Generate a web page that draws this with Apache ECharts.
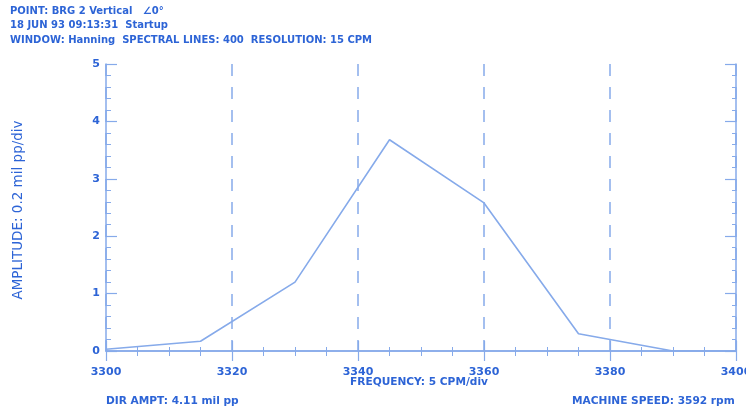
<!DOCTYPE html>
<html>
<head>
<meta charset="utf-8">
<script src="https://cdn.jsdelivr.net/npm/echarts@6/dist/echarts.min.js"></script>
<style>html,body{margin:0;padding:0;background:#fff}#c{width:746px;height:412px}</style>
</head>
<body>
<div id="c"></div>
<script>
const frequency = [3300, 3315, 3330, 3345, 3360, 3375, 3390, 3400];
const amplitude = [0.03, 0.17, 1.2, 3.68, 2.58, 0.3, 0.0, 0.0];
const headerLines = [
  'POINT: BRG 2 Vertical   \u22200\u00B0',
  '18 JUN 93 09:13:31  Startup',
  'WINDOW: Hanning  SPECTRAL LINES: 400  RESOLUTION: 15 CPM'
];
const xTitle = 'FREQUENCY: 5 CPM/div';
const yTitle = 'AMPLITUDE: 0.2 mil pp/div';
const leftNote = 'DIR AMPT: 4.11 mil pp';
const rightNote = 'MACHINE SPEED: 3592 rpm';

const TXT = '#2d64d6';
const LN = '#86aaea';
const FONT = 'DejaVu Sans, Verdana, sans-serif';

const chart = echarts.init(document.getElementById('c'), null, {renderer: 'canvas'});
const graphics = headerLines.map((t, i) => ({
  type: 'text', left: 10, top: 6 + i * 14.5,
  style: {text: t, fill: TXT, font: 'bold 10px ' + FONT}
}));
graphics.push(
  {type: 'text', left: 350, top: 377, style: {text: xTitle, fill: TXT, font: 'bold 10.6px ' + FONT}},
  {type: 'text', left: 106, top: 396, style: {text: leftNote, fill: TXT, font: 'bold 10.6px ' + FONT}},
  {type: 'text', left: 572, top: 396, style: {text: rightNote, fill: TXT, font: 'bold 10.6px ' + FONT}},
  {type: 'text', x: 18, y: 210, rotation: Math.PI / 2,
   style: {text: yTitle, fill: TXT, font: '13.5px ' + FONT, align: 'center', verticalAlign: 'middle'}}
);

const axisLine = {show: true, lineStyle: {color: LN, width: 1.5}};
chart.setOption({
  animation: false,
  backgroundColor: '#ffffff',
  grid: {left: 106, right: 10, top: 64, bottom: 61, containLabel: false, outerBoundsMode: 'none'},
  graphic: graphics,
  xAxis: [{
    type: 'value', min: 3300, max: 3400, interval: 20, position: 'bottom',
    axisLine: axisLine,
    axisTick: {show: true, inside: false, length: 10, lineStyle: {color: LN, width: 1.2}},
    minorTick: {show: true, splitNumber: 4, length: 5, lineStyle: {color: LN, width: 1}},
    axisLabel: {color: TXT, fontFamily: FONT, fontWeight: 'bold', fontSize: 11, margin: 16,
      showMaxLabel: true, hideOverlap: false, formatter: v => String(v)},
    splitLine: {show: true, lineStyle: {color: LN, width: 1.5, type: [12, 11]}}
  }, {
    type: 'value', min: 3300, max: 3400, interval: 20, position: 'top',
    axisLine: axisLine,
    axisTick: {show: true, inside: false, length: 10, lineStyle: {color: LN, width: 1.2}},
    minorTick: {show: true, splitNumber: 4, length: 4, lineStyle: {color: LN, width: 1}},
    axisLabel: {show: false},
    splitLine: {show: false}
  }],
  yAxis: [{
    type: 'value', min: 0, max: 5, interval: 1, position: 'left',
    axisLine: axisLine,
    axisTick: {show: true, inside: true, length: 11, lineStyle: {color: LN, width: 1.2}},
    minorTick: {show: true, splitNumber: 5, length: 5, lineStyle: {color: LN, width: 1}},
    axisLabel: {color: TXT, fontFamily: FONT, fontWeight: 'bold', fontSize: 11, margin: 6},
    splitLine: {show: false}
  }, {
    type: 'value', min: 0, max: 5, interval: 1, position: 'right',
    axisLine: axisLine,
    axisTick: {show: true, inside: true, length: 11, lineStyle: {color: LN, width: 1.2}},
    minorTick: {show: true, splitNumber: 5, length: 4, lineStyle: {color: LN, width: 1}},
    axisLabel: {show: false},
    splitLine: {show: false}
  }],
  series: [{
    type: 'line',
    data: frequency.map((f, i) => [f, amplitude[i]]),
    showSymbol: false,
    lineStyle: {color: LN, width: 1.6},
    z: 5
  }]
});
</script>
</body>
</html>
